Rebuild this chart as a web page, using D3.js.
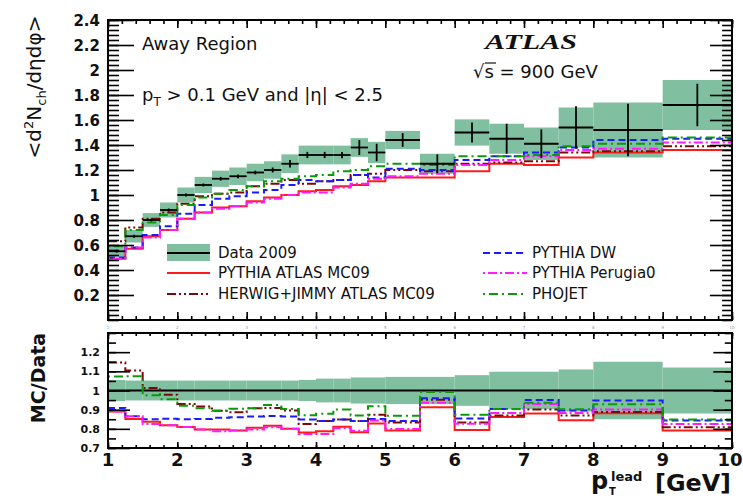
<!DOCTYPE html>
<html lang="en">
<head>
<meta charset="utf-8">
<script src="https://d3js.org/d3.v7.min.js"></script>
<style>
  body { margin: 0; background: #fff; }
  text { font-family: "DejaVu Sans", sans-serif; fill: #111; }
</style>
</head>
<body>
<script>
// bin edges in pT lead [GeV]
var edges = [1, 1.25, 1.5, 1.75, 2, 2.25, 2.5, 2.75, 3, 3.25, 3.5, 3.75, 4,
             4.25, 4.5, 4.75, 5, 5.5, 6, 6.5, 7, 7.5, 8, 9, 10];

// Data 2009
var dataVal  = [0.55, 0.67, 0.80, 0.88, 1.00, 1.08, 1.13, 1.15, 1.18, 1.20, 1.25, 1.32,
                1.32, 1.32, 1.38, 1.34, 1.44, 1.25, 1.50, 1.45, 1.41, 1.54, 1.52, 1.72];
var dataStat = [0.01, 0.01, 0.01, 0.01, 0.01, 0.01, 0.015, 0.015, 0.015, 0.02, 0.03, 0.025,
                0.025, 0.025, 0.06, 0.07, 0.055, 0.075, 0.08, 0.12, 0.115, 0.17, 0.21, 0.17];
var dataSys  = [0.045, 0.05, 0.055, 0.06, 0.06, 0.065, 0.065, 0.07, 0.07, 0.07, 0.075, 0.075,
                0.075, 0.075, 0.075, 0.085, 0.073, 0.08, 0.105, 0.12, 0.13, 0.16, 0.22, 0.2];
// band in the ratio panel
var ratioSys = [0.055, 0.052, 0.052, 0.052, 0.052, 0.052, 0.052, 0.052, 0.052, 0.052, 0.052, 0.055,
                0.062, 0.062, 0.068, 0.068, 0.071, 0.071, 0.08, 0.098, 0.098, 0.11, 0.15, 0.12];

// MC predictions
var pythiaMC09  = [0.49, 0.57, 0.67, 0.72, 0.81, 0.86, 0.90, 0.91, 0.95, 0.98, 1.00, 1.03,
                   1.04, 1.07, 1.08, 1.11, 1.14, 1.14, 1.19, 1.25, 1.24, 1.30, 1.34, 1.36];
var herwigJimmy = [0.63, 0.74, 0.81, 0.86, 0.93, 0.99, 1.01, 1.02, 1.07, 1.09, 1.12, 1.09,
                   1.11, 1.12, 1.16, 1.17, 1.20, 1.19, 1.25, 1.26, 1.27, 1.34, 1.35, 1.39];
var pythiaDW    = [0.50, 0.58, 0.68, 0.75, 0.85, 0.92, 0.97, 0.99, 1.02, 1.04, 1.08, 1.12,
                   1.11, 1.12, 1.16, 1.14, 1.21, 1.20, 1.28, 1.31, 1.34, 1.38, 1.44, 1.45];
var perugia0    = [0.49, 0.58, 0.66, 0.72, 0.81, 0.86, 0.89, 0.91, 0.94, 0.97, 1.00, 1.02,
                   1.02, 1.06, 1.09, 1.13, 1.15, 1.17, 1.24, 1.28, 1.31, 1.36, 1.37, 1.42];
var phojet      = [0.59, 0.72, 0.78, 0.84, 0.92, 0.98, 1.01, 1.04, 1.07, 1.11, 1.13, 1.15,
                   1.16, 1.19, 1.20, 1.23, 1.25, 1.24, 1.31, 1.31, 1.32, 1.39, 1.41, 1.46];

var yTicksMain  = [0.2, 0.4, 0.6, 0.8, 1, 1.2, 1.4, 1.6, 1.8, 2, 2.2, 2.4];
var yTicksRatio = [0.7, 0.8, 0.9, 1, 1.1, 1.2];
var xTicks      = [1, 2, 3, 4, 5, 6, 7, 8, 9, 10];

var models = [
  {name: "PYTHIA ATLAS MC09",       vals: pythiaMC09,  color: "#ff1a1a", dash: null,          w: 2},
  {name: "HERWIG+JIMMY ATLAS MC09", vals: herwigJimmy, color: "#7a0a0a", dash: "9,3,2,3,2,3", w: 2},
  {name: "PYTHIA DW",               vals: pythiaDW,    color: "#1a1aff", dash: "7,4",         w: 2},
  {name: "PYTHIA Perugia0",         vals: perugia0,    color: "#ff1aff", dash: "2,3,9,3",     w: 2},
  {name: "PHOJET",                  vals: phojet,      color: "#0a9a0a", dash: "2,4,9,4",     w: 2}
];

var W = 743, H = 499;
var L = 108, R = 732;
var svg = d3.select("body").append("svg").attr("width", W).attr("height", H);

var x = d3.scaleLinear().domain([1, 10]).range([L, R]);
var y = d3.scaleLinear().domain([0, 2.4]).range([320, 20]);
var yr = d3.scaleLinear().domain([0.7, 1.3]).range([448, 333]);

var bandColor = "#80c0a0";

// step path through bin edges
function stepPts(vals, f) {
  var pts = vals.map(function (v, i) { return [edges[i], f(v, i)]; });
  pts.push([edges[edges.length - 1], f(vals[vals.length - 1], vals.length - 1)]);
  return pts;
}

function frameTicks(g, ys, top, bottom, yTicks, yMinor, majL, minL, xmaj, xmin) {
  // left
  g.append("g").attr("transform", "translate(" + L + ",0)")
    .call(d3.axisRight(ys).tickValues(yMinor).tickSize(minL).tickFormat(""));
  g.append("g").attr("transform", "translate(" + L + ",0)")
    .call(d3.axisRight(ys).tickValues(yTicks).tickSize(majL).tickFormat(""));
  // right
  g.append("g").attr("transform", "translate(" + R + ",0)")
    .call(d3.axisLeft(ys).tickValues(yMinor).tickSize(minL * 0.9).tickFormat(""));
  g.append("g").attr("transform", "translate(" + R + ",0)")
    .call(d3.axisLeft(ys).tickValues(yTicks).tickSize(majL * 0.85).tickFormat(""));
  // top and bottom
  var xMinor = d3.range(1, 10.01, 0.2);
  [[top, d3.axisBottom], [bottom, d3.axisTop]].forEach(function (p) {
    g.append("g").attr("transform", "translate(0," + p[0] + ")")
      .call(p[1](x).tickValues(xMinor).tickSize(xmin).tickFormat(""));
    g.append("g").attr("transform", "translate(0," + p[0] + ")")
      .call(p[1](x).tickValues(xTicks).tickSize(xmaj).tickFormat(""));
  });
  g.selectAll(".domain").remove();
  g.selectAll(".tick line").attr("stroke", "#000").attr("stroke-width", 1.6);
  g.append("rect").attr("x", L).attr("y", top).attr("width", R - L).attr("height", bottom - top)
    .attr("fill", "none").attr("stroke", "#000").attr("stroke-width", 2);
}

// ---------------- main panel ----------------
var main = svg.append("g");

main.selectAll("rect.sys").data(dataVal).enter().append("rect")
  .attr("x", function (d, i) { return x(edges[i]); })
  .attr("width", function (d, i) { return x(edges[i + 1]) - x(edges[i]); })
  .attr("y", function (d, i) { return y(d + dataSys[i]); })
  .attr("height", function (d, i) { return y(d - dataSys[i]) - y(d + dataSys[i]); })
  .attr("fill", bandColor);

var line = d3.line().curve(d3.curveStepAfter)
  .x(function (p) { return x(p[0]); }).y(function (p) { return p[1]; });

models.forEach(function (m) {
  main.append("path")
    .attr("d", line(stepPts(m.vals, function (v) { return y(v); })))
    .attr("fill", "none").attr("stroke", m.color).attr("stroke-width", m.w)
    .attr("stroke-dasharray", m.dash);
});

// data points
var pts = main.selectAll("g.pt").data(dataVal).enter().append("g");
pts.append("line")
  .attr("x1", function (d, i) { return x(edges[i]); })
  .attr("x2", function (d, i) { return x(edges[i + 1]); })
  .attr("y1", function (d) { return y(d); }).attr("y2", function (d) { return y(d); })
  .attr("stroke", "#000").attr("stroke-width", 1.8);
pts.append("line")
  .attr("x1", function (d, i) { return x((edges[i] + edges[i + 1]) / 2); })
  .attr("x2", function (d, i) { return x((edges[i] + edges[i + 1]) / 2); })
  .attr("y1", function (d, i) { return y(d + Math.max(dataStat[i], 0.012)); })
  .attr("y2", function (d, i) { return y(d - Math.max(dataStat[i], 0.012)); })
  .attr("stroke", "#000").attr("stroke-width", 1.8);

frameTicks(main, y, 20, 320, yTicksMain, d3.range(0, 2.401, 0.04), 26, 11, 8, 4);

main.selectAll("text.yl").data(yTicksMain).enter().append("text")
  .attr("x", 100).attr("y", function (d) { return y(d) + 5.5; })
  .attr("text-anchor", "end").attr("font-size", 15).attr("font-weight", "bold")
  .text(function (d) { return d3.format("")(+d.toFixed(1)); });

// squeezed labels under the main panel
main.selectAll("text.xs").data(xTicks).enter().append("text")
  .attr("x", function (d) { return x(d); }).attr("y", 329)
  .attr("text-anchor", "middle").attr("font-size", 4).style("fill", "#8890a8")
  .text(function (d) { return d; });

// y title
var yt = svg.append("text").attr("transform", "translate(41,87) rotate(-90)")
  .attr("text-anchor", "middle").attr("font-size", 20);
yt.append("tspan").text("<d");
yt.append("tspan").attr("font-size", 13).attr("dy", -8).text("2");
yt.append("tspan").attr("dy", 8).text("N");
yt.append("tspan").attr("font-size", 13).attr("dy", 5).text("ch");
yt.append("tspan").attr("dy", -5).text("/dηdφ>");

// annotations
svg.append("text").attr("x", 142).attr("y", 50).attr("font-size", 18).text("Away Region");
var cut = svg.append("text").attr("x", 142).attr("y", 101).attr("font-size", 18);
cut.append("tspan").text("p");
cut.append("tspan").attr("font-size", 12).attr("dy", 5).text("T");
cut.append("tspan").attr("dy", -5).text(" > 0.1 GeV and |η| < 2.5");

svg.append("text").attr("x", 485).attr("y", 49)
  .attr("font-style", "italic").attr("font-weight", "bold").attr("font-size", 22)
  .attr("textLength", 92).attr("lengthAdjust", "spacingAndGlyphs")
  .style("font-family", "'Liberation Serif', serif").text("ATLAS");

svg.append("text").attr("x", 473).attr("y", 78).attr("font-size", 18).text("√s = 900 GeV");
svg.append("line").attr("x1", 485).attr("x2", 496).attr("y1", 63).attr("y2", 63)
  .attr("stroke", "#111").attr("stroke-width", 1.2);

// legend
var leg1 = [{name: "Data 2009", data: true}, models[0], models[1]];
var leg2 = [models[2], models[3], models[4]];
var legY = [258, 278, 299];
leg1.forEach(function (m, i) {
  var cy = legY[i] - 5;
  if (m.data) {
    svg.append("rect").attr("x", 167).attr("y", cy - 9).attr("width", 43).attr("height", 17)
      .attr("fill", bandColor);
    svg.append("line").attr("x1", 167).attr("x2", 210).attr("y1", cy).attr("y2", cy)
      .attr("stroke", "#000").attr("stroke-width", 1.8);
  } else {
    svg.append("line").attr("x1", 167).attr("x2", 210).attr("y1", cy).attr("y2", cy)
      .attr("stroke", m.color).attr("stroke-width", m.w).attr("stroke-dasharray", m.dash);
  }
  svg.append("text").attr("x", 218).attr("y", legY[i]).attr("font-size", 15).text(m.name);
});
leg2.forEach(function (m, i) {
  var cy = legY[i] - 5;
  svg.append("line").attr("x1", 483).attr("x2", 527).attr("y1", cy).attr("y2", cy)
    .attr("stroke", m.color).attr("stroke-width", m.w).attr("stroke-dasharray", m.dash);
  svg.append("text").attr("x", 532).attr("y", legY[i]).attr("font-size", 15).text(m.name);
});

// ---------------- ratio panel ----------------
var rat = svg.append("g");

rat.selectAll("rect.rsys").data(ratioSys).enter().append("rect")
  .attr("x", function (d, i) { return x(edges[i]); })
  .attr("width", function (d, i) { return x(edges[i + 1]) - x(edges[i]); })
  .attr("y", function (d) { return yr(1 + d); })
  .attr("height", function (d) { return yr(1 - d) - yr(1 + d); })
  .attr("fill", bandColor);

rat.append("line").attr("x1", x(1)).attr("x2", x(10)).attr("y1", yr(1)).attr("y2", yr(1))
  .attr("stroke", "#000").attr("stroke-width", 2);

models.forEach(function (m) {
  rat.append("path")
    .attr("d", line(stepPts(m.vals, function (v, i) { return yr(v / dataVal[i]); })))
    .attr("fill", "none").attr("stroke", m.color).attr("stroke-width", m.w)
    .attr("stroke-dasharray", m.dash);
});

frameTicks(rat, yr, 333, 448, yTicksRatio, d3.range(0.7, 1.301, 0.05), 22, 8, 6, 3);

rat.selectAll("text.ryl").data(yTicksRatio).enter().append("text")
  .attr("x", 100).attr("y", function (d) { return yr(d) + 4; })
  .attr("text-anchor", "end").attr("font-size", 11).attr("font-weight", "bold")
  .text(function (d) { return d3.format("")(+d.toFixed(1)); });

rat.selectAll("text.xl").data(xTicks).enter().append("text")
  .attr("x", function (d) { return d === 10 ? x(d) - 2 : x(d); }).attr("y", 466)
  .attr("text-anchor", "middle").attr("font-size", 18).attr("font-weight", "bold")
  .text(function (d) { return d; });

svg.append("text").attr("transform", "translate(45,378) rotate(-90)")
  .attr("text-anchor", "middle").attr("font-size", 19).attr("font-weight", "bold")
  .text("MC/Data");

// x title
svg.append("text").attr("x", 591).attr("y", 489).attr("font-size", 24).attr("font-weight", "bold").text("p");
svg.append("text").attr("x", 611).attr("y", 481).attr("font-size", 13).attr("font-weight", "bold").text("lead");
svg.append("text").attr("x", 609).attr("y", 495).attr("font-size", 10).attr("font-weight", "bold").text("T");
svg.append("text").attr("x", 655).attr("y", 491).attr("font-size", 23).attr("font-weight", "bold")
  .attr("textLength", 76).attr("lengthAdjust", "spacingAndGlyphs").text("[GeV]");
</script>
</body>
</html>
